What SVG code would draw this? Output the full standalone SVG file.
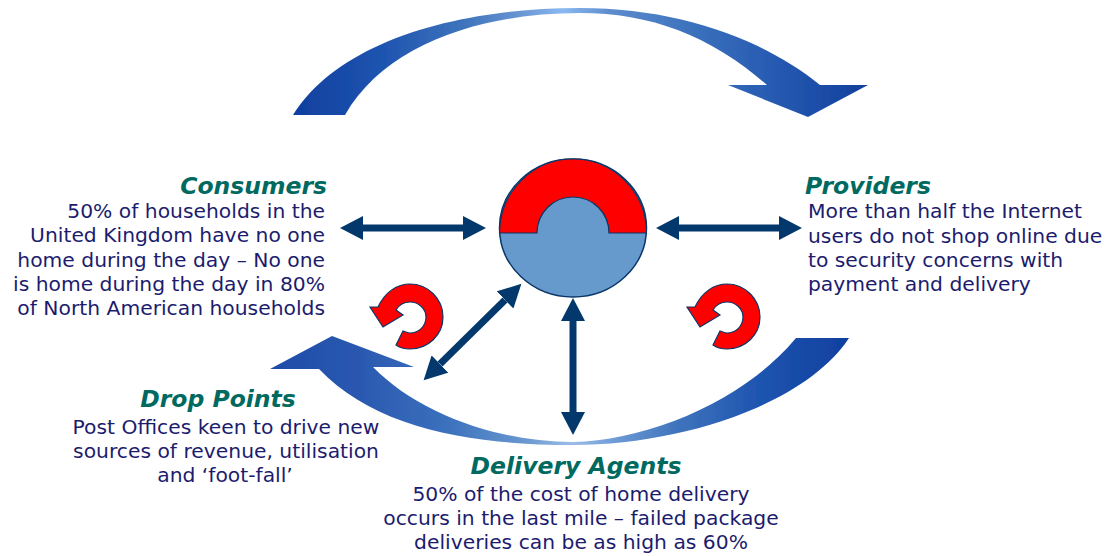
<svg xmlns="http://www.w3.org/2000/svg" width="1111" height="556" viewBox="0 0 1111 556">
<style>
.h{font:italic bold 23.500px "DejaVu Sans",Verdana,sans-serif;fill:#006a60}
.b{font:20.300px "DejaVu Sans",Verdana,sans-serif;fill:#1c1c6e}
.e{text-anchor:end}.m{text-anchor:middle}
.red{fill:#f00;stroke:#0a3768;stroke-width:1.2}
.ln{stroke:#03386c;stroke-width:7;fill:none;marker-start:url(#a);marker-end:url(#a)}
</style>
<defs>
<marker id="a" markerUnits="userSpaceOnUse" markerWidth="24" markerHeight="24" refX="0" refY="12" orient="auto-start-reverse"><path d="M0 0L23 12L0 24Z" fill="#03386c"/></marker>
<linearGradient id="g1" gradientUnits="userSpaceOnUse" x1="293" y1="0" x2="868" y2="0"><stop offset="0" stop-color="#0f3f9f"/><stop offset=".16" stop-color="#1f55b0"/><stop offset=".3" stop-color="#3f74bc"/><stop offset=".4" stop-color="#6a98d4"/><stop offset=".47" stop-color="#8ab8f2"/><stop offset=".55" stop-color="#5f8dcc"/><stop offset=".7" stop-color="#3a70bc"/><stop offset=".85" stop-color="#2458b0"/><stop offset="1" stop-color="#123f9c"/></linearGradient>
<linearGradient id="g2" gradientUnits="userSpaceOnUse" x1="850" y1="0" x2="271" y2="0"><stop offset="0" stop-color="#0f3f9f"/><stop offset=".16" stop-color="#1f55b0"/><stop offset=".3" stop-color="#3f74bc"/><stop offset=".4" stop-color="#6a98d4"/><stop offset=".48" stop-color="#9cbce6"/><stop offset=".56" stop-color="#6a98d0"/><stop offset=".7" stop-color="#3a70bc"/><stop offset=".85" stop-color="#2a58b0"/><stop offset="1" stop-color="#1e4ca8"/></linearGradient>
<filter id="s" x="-5%" y="-5%" width="110%" height="110%"><feGaussianBlur stdDeviation=".7"/></filter>
</defs>
<g id="connectors">
<path id="arc-top" fill="url(#g1)" filter="url(#s)" d="M293 115C340 40 460 8 580 8C680 8 765 40 820 85H868L808 117L728 85H767C710 35 650 13 580 13C480 13 385 45 345 115Z"/>
<path id="arc-bottom" fill="url(#g2)" filter="url(#s)" d="M849 338C805 405 680 445 573 445C470 445 375 428 319 369H270L332 336L414 367H373C420 415 500 442 573 442C650 440 745 400 796 338Z"/>
<path class="ln" d="M363 228H463"/>
<path class="ln" d="M679 228H779"/>
<path class="ln" d="M505 300L440 364"/>
<path class="ln" d="M573 321V412"/>
</g>
<g id="hub">
<ellipse cx="573" cy="228" rx="73.500" ry="69" fill="#6699cc" stroke="#0a3768" stroke-width="1.500"/>
<path class="red" d="M499.500 233A73.500 74 0 0 1 646.500 233H609C609 213 593 197 573 197C553 197 537 213 537 233Z"/>
</g>
<g id="cycle-left"><path class="red" d="M370 307L378 307C385 292 397 284 410 284C428 284 443 299 443 317C443 335 428 349 410 349C405 349 400 348 396 345L403 331C406 332 408 333 410 333C419 333 426 326 426 317C426 309 419 302 410 302C404 302 399 305 396 310L403 315L383 327Z"/></g>
<g id="cycle-right"><path class="red" d="M687 307L695 307C702 292 714 284 727 284C745 284 760 299 760 317C760 335 745 349 727 349C722 349 717 348 713 345L720 331C723 332 725 333 727 333C736 333 743 326 743 317C743 309 736 302 727 302C721 302 716 305 713 310L720 315L700 327Z"/></g>
<g id="consumers">
<text class="h e" x="327" y="194">Consumers</text>
<text class="b e" x="325" y="218">50% of households in the</text>
<text class="b e" x="325" y="242">United Kingdom have no one</text>
<text class="b e" x="325" y="267">home during the day – No one</text>
<text class="b e" x="325" y="291">is home during the day in 80%</text>
<text class="b e" x="325" y="315">of North American households</text>
</g>
<g id="providers">
<text class="h" x="805" y="194">Providers</text>
<text class="b" x="808" y="218">More than half the Internet</text>
<text class="b" x="808" y="243">users do not shop online due</text>
<text class="b" x="808" y="267">to security concerns with</text>
<text class="b" x="808" y="291">payment and delivery</text>
</g>
<g id="drop-points">
<text class="h m" x="218" y="407">Drop Points</text>
<text class="b m" x="226" y="434">Post Offices keen to drive new</text>
<text class="b m" x="226" y="458">sources of revenue, utilisation</text>
<text class="b m" x="225" y="482">and ‘foot-fall’</text>
</g>
<g id="delivery-agents">
<text class="h m" x="576" y="474">Delivery Agents</text>
<text class="b m" x="581" y="501">50% of the cost of home delivery</text>
<text class="b m" x="581" y="525">occurs in the last mile – failed package</text>
<text class="b m" x="581" y="549">deliveries can be as high as 60%</text>
</g>
</svg>
